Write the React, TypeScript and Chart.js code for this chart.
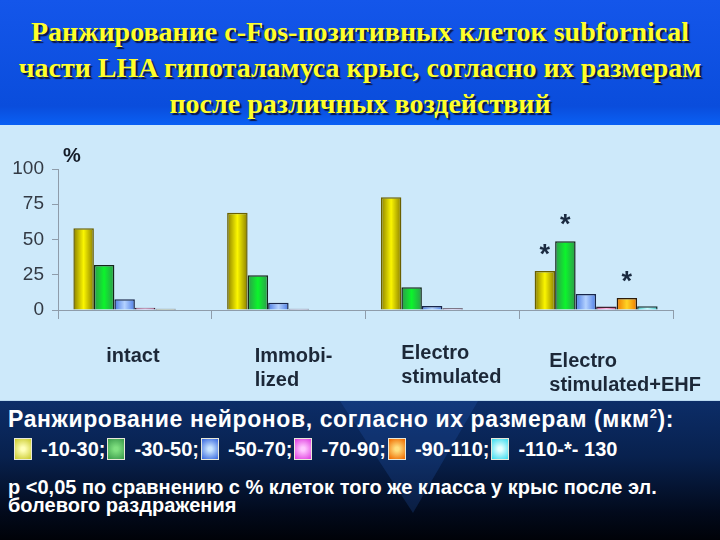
import React, { useEffect, useRef } from "react";
import { Chart, registerables } from "chart.js";

Chart.register(...registerables);

// ---- data ----
const titleLines = [
  "Ранжирование c-Fos-позитивных клеток subfornical",
  "части LHA гипоталамуса крыс, согласно их размерам",
  "после различных воздействий",
];
const categories: string[][] = [
  ["intact"],
  ["Immobi-", "lized"],
  ["Electro", "stimulated"],
  ["Electro", "stimulated+EHF"],
];
const sizeClasses = ["-10-30;", "-30-50;", "-50-70;", "-70-90;", "-90-110;", "-110-*- 130"];
const s10_30 = [58, 69, 80, 27.7];
const s30_50 = [32, 24.6, 16.1, 48.8];
const s50_70 = [7.6, 5.2, 2.8, 11.4];
const s70_90 = [1.6, 0.8, 1.2, 2.4];
const s90_110 = [0.8, 0, 0, 8.5];
const s110_130 = [0, 0, 0, 2.6];
const seriesValues = [s10_30, s30_50, s50_70, s70_90, s90_110, s110_130];
const yTicks = [0, 25, 50, 75, 100];
const yUnit = "%";
// significance marks: [category index, series index]
const significant: number[][] = [
  [3, 0],
  [3, 1],
  [3, 4],
];
const legendTitle = "Ранжирование нейронов, согласно их размерам (мкм";
const footnoteLines = [
  "р <0,05 по сравнению с % клеток того же класса у крыс после эл.",
  "болевого раздражения",
];

// ---- styles ----
const barEdge = ["#8a7e00", "#2f9a4c", "#4c7ce6", "#c86090", "#ee7800", "#3cc4c4"];
const barMid = ["#fbf600", "#0cf42c", "#b4d2ff", "#ffb4e0", "#ffd424", "#c4ffff"];
const barBorder = ["#6a6000", "#14281a", "#18264a", "#40202e", "#2c1c0a", "#1c3434"];
const swatchEdge = ["#cccc30", "#3c9c4c", "#3c6ce0", "#e040e0", "#f06c00", "#40dcef"];
const swatchMid = ["#ffffb8", "#80e080", "#c8e4ff", "#ffc8ff", "#ffe080", "#e4ffff"];
const labelDx = [-2, 5, 9, 29];
const labelDy = [0, 0, -3, 5];
const SANS = '"Liberation Sans", Arial, sans-serif';

const gradientPlugin = {
  id: "barGradient",
  beforeDatasetsDraw(chart: any) {
    const ctx = chart.ctx;
    chart.data.datasets.forEach((_: any, i: number) => {
      const meta = chart.getDatasetMeta(i);
      meta.data.forEach((el: any) => {
        if (!el.options || Object.isFrozen(el.options)) return;
        const { x, width } = el.getProps(["x", "width"], true);
        if (!isFinite(x) || !isFinite(width)) return;
        const g = ctx.createLinearGradient(x - width / 2, 0, x + width / 2, 0);
        g.addColorStop(0, barEdge[i]);
        g.addColorStop(0.5, barMid[i]);
        g.addColorStop(1, barEdge[i]);
        el.options.backgroundColor = g;
      });
    });
  },
};

const annotPlugin = {
  id: "annot",
  afterDraw(chart: any) {
    const ctx = chart.ctx;
    const area = chart.chartArea;
    const xs = chart.scales.x;
    ctx.save();
    // unit label
    ctx.font = `bold 20px ${SANS}`;
    ctx.fillStyle = "#141c28";
    ctx.textAlign = "left";
    ctx.textBaseline = "alphabetic";
    ctx.fillText(yUnit, area.left + 5, area.top - 7);
    // category labels (left aligned block centred under category)
    ctx.font = `bold 20px ${SANS}`;
    ctx.fillStyle = "#1c2838";
    categories.forEach((lines, i) => {
      const cx = xs.getPixelForValue(i);
      const w = Math.max(...lines.map((l) => ctx.measureText(l).width));
      const x0 = cx - w / 2 + labelDx[i];
      lines.forEach((l, k) => {
        ctx.fillText(l, x0, area.bottom + 52 + labelDy[i] + k * 24);
      });
    });
    // significance asterisks
    ctx.font = `bold 27px ${SANS}`;
    ctx.fillStyle = "#1a2a40";
    ctx.textAlign = "center";
    significant.forEach(([c, s]) => {
      const el = chart.getDatasetMeta(s).data[c];
      if (!el) return;
      const { x, y } = el.getProps(["x", "y"], true);
      ctx.fillText("*", x, y - 8);
    });
    ctx.restore();
  },
};

function BarChart() {
  const ref = useRef<HTMLCanvasElement | null>(null);
  useEffect(() => {
    if (!ref.current) return;
    const chart = new Chart(ref.current, {
      type: "bar",
      data: {
        labels: categories.map((c) => c.join(" ")),
        datasets: seriesValues.map((vals, i) => ({
          label: sizeClasses[i],
          data: vals,
          backgroundColor: () => barMid[i],
          borderColor: barBorder[i],
          borderWidth: 1.5,
          categoryPercentage: 0.8,
          barPercentage: 1,
        })),
      },
      options: {
        responsive: false,
        animation: false,
        events: [],
        layout: { padding: { top: 44, right: 47, left: 0, bottom: 0 } },
        plugins: { legend: { display: false }, tooltip: { enabled: false }, title: { display: false } },
        scales: {
          x: {
            grid: { display: true, drawOnChartArea: false, drawTicks: true, tickLength: 9, color: "#8e9caa", offset: true },
            border: { display: true, color: "#8e9caa", width: 1 },
            ticks: { display: false },
            afterFit: (s: any) => {
              s.height = 90;
            },
          },
          y: {
            min: 0,
            max: 100,
            afterBuildTicks: (s: any) => {
              s.ticks = yTicks.map((v) => ({ value: v }));
            },
            grid: { drawOnChartArea: false, drawTicks: true, tickLength: 6, color: "#8e9caa" },
            border: { display: true, color: "#8e9caa", width: 1 },
            ticks: { font: { family: SANS, size: 19 }, color: "#333a44", padding: 8 },
            afterFit: (s: any) => {
              s.width = 58;
            },
          },
        },
      } as any,
      plugins: [gradientPlugin, annotPlugin],
    });
    return () => chart.destroy();
  }, []);
  return <canvas ref={ref} width={720} height={275} style={{ display: "block" }} />;
}

export default function App() {
  return (
    <div
      style={{
        position: "fixed",
        left: 0,
        top: 0,
        width: 720,
        height: 540,
        overflow: "hidden",
        background: "#000",
      }}
    >
      {/* title */}
      <div
        style={{
          position: "absolute",
          left: 0,
          top: 0,
          width: 720,
          height: 125,
          background: "linear-gradient(#1456ea, #0a4ddc 85%, #0a60f4)",
          textAlign: "center",
          fontFamily: '"Liberation Serif", "Times New Roman", serif',
          fontWeight: "bold",
          fontSize: 28,
          lineHeight: "36px",
          color: "#ffff2a",
          textShadow: "2px 2px 1px rgba(10,10,40,0.85)",
          paddingTop: 14,
          boxSizing: "border-box",
          whiteSpace: "nowrap",
        }}
      >
        {titleLines.map((t, i) => (
          <div key={i}>{t}</div>
        ))}
      </div>
      {/* chart panel */}
      <div
        style={{
          position: "absolute",
          left: 0,
          top: 125,
          width: 720,
          height: 275,
          background: "#cde9fa",
        }}
      >
        <BarChart />
      </div>
      {/* bottom area */}
      <div
        style={{
          position: "absolute",
          left: 0,
          top: 400,
          width: 720,
          height: 140,
          background: "linear-gradient(#0c2d68 0%, #08214e 40%, #020a1c 80%, #000208 100%)",
          fontFamily: SANS,
          fontWeight: "bold",
          color: "#ffffff",
          borderTop: "1px solid #b8d8f0",
          boxSizing: "border-box",
        }}
      >
        <div
          style={{
            position: "absolute",
            left: 0,
            top: 0,
            width: 720,
            height: 140,
            background: "rgba(40,100,200,0.22)",
            clipPath: "polygon(340px 0px, 478px 0px, 413px 112px)",
          }}
        />
        <div
          style={{
            position: "absolute",
            left: 8,
            top: 5,
            fontSize: 23,
            lineHeight: "26px",
            letterSpacing: 0.6,
            whiteSpace: "nowrap",
          }}
        >
          {legendTitle}
          <sup style={{ fontSize: 13, lineHeight: 0 }}>2</sup>):
        </div>
        <div
          style={{
            position: "absolute",
            left: 14,
            top: 36,
            display: "flex",
            alignItems: "center",
            fontSize: 20,
            lineHeight: "24px",
            whiteSpace: "nowrap",
          }}
        >
          {sizeClasses.map((c, i) => (
            <React.Fragment key={i}>
              <span
                style={{
                  display: "inline-block",
                  width: 18,
                  height: 22,
                  border: "1px solid #e8e8d8",
                  background: `radial-gradient(circle, ${swatchMid[i]} 15%, ${swatchEdge[i]} 95%)`,
                  marginRight: 9,
                  boxSizing: "border-box",
                }}
              />
              <span style={{ marginRight: 2 }}>{c}</span>
            </React.Fragment>
          ))}
        </div>
        <div
          style={{
            position: "absolute",
            left: 8,
            top: 77,
            fontSize: 20,
            lineHeight: "18px",
            whiteSpace: "nowrap",
          }}
        >
          {footnoteLines.map((t, i) => (
            <div key={i}>{t}</div>
          ))}
        </div>
      </div>
    </div>
  );
}
